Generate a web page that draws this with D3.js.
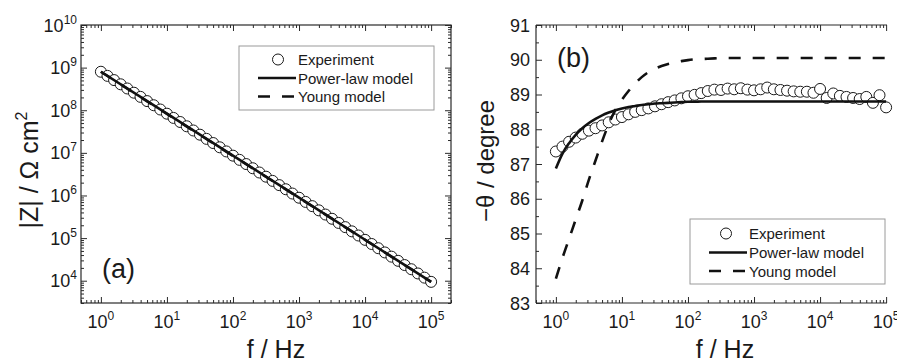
<!DOCTYPE html>
<html>
<head>
<meta charset="utf-8">
<script src="https://cdn.jsdelivr.net/npm/d3@7"></script>
<style>
  html, body { margin: 0; padding: 0; background: #fff; }
  svg { display: block; font-family: "Liberation Sans", Arial, sans-serif; }
</style>
</head>
<body>
<svg id="chart" width="897" height="363"></svg>
<script>
// Measurement frequencies (Hz), 10 points per decade
const freq = [
  1, 1.259, 1.585, 1.995, 2.512, 3.162, 3.981, 5.012, 6.310, 7.943,
  10, 12.59, 15.85, 19.95, 25.12, 31.62, 39.81, 50.12, 63.10, 79.43,
  100, 125.9, 158.5, 199.5, 251.2, 316.2, 398.1, 501.2, 631.0, 794.3,
  1000, 1259, 1585, 1995, 2512, 3162, 3981, 5012, 6310, 7943,
  10000, 12589, 15849, 19953, 25119, 31623, 39811, 50119, 63096, 79433, 100000
];

// Impedance modulus |Z| (Ohm cm^2), experiment
const zExp = [
  8.0e8, 6.4e8, 5.1e8, 4.06e8, 3.24e8, 2.58e8, 2.06e8, 1.64e8, 1.31e8, 1.04e8,
  8.3e7, 6.6e7, 5.3e7, 4.2e7, 3.35e7, 2.67e7, 2.13e7, 1.7e7, 1.35e7, 1.08e7,
  8.6e6, 6.85e6, 5.46e6, 4.35e6, 3.46e6, 2.76e6, 2.2e6, 1.75e6, 1.4e6, 1.11e6,
  8.86e5, 7.06e5, 5.62e5, 4.48e5, 3.57e5, 2.84e5, 2.27e5, 1.81e5, 1.44e5, 1.15e5,
  9.1e4, 7.27e4, 5.79e4, 4.61e4, 3.67e4, 2.93e4, 2.33e4, 1.86e4, 1.48e4, 1.18e4, 9.4e3
];

// Model |Z| at each decade
const freqDecades = [1, 10, 100, 1000, 10000, 100000];
const zPower = [8.0e8, 8.3e7, 8.6e6, 8.9e5, 9.15e4, 9.4e3];
const zYoung = [8.0e8, 8.2e7, 8.5e6, 8.85e5, 9.1e4, 9.4e3];

// Phase angle -theta (degree)
const phaseExp = [
  87.36, 87.50, 87.64, 87.76, 87.87, 87.96, 88.03, 88.11, 88.20, 88.28,
  88.35, 88.43, 88.50, 88.55, 88.60, 88.66, 88.72, 88.78, 88.83, 88.89,
  88.95, 88.99, 89.04, 89.10, 89.14, 89.13, 89.17, 89.15, 89.18, 89.14,
  89.12, 89.15, 89.20, 89.15, 89.13, 89.11, 89.09, 89.08, 89.08, 89.05,
  89.16, 88.90, 89.03, 88.96, 88.93, 88.90, 88.87, 88.93, 88.76, 88.98, 88.63
];
const phasePower = [
  86.87, 87.30, 87.60, 87.84, 88.03, 88.18, 88.30, 88.40, 88.48, 88.55,
  88.60, 88.64, 88.67, 88.70, 88.72, 88.74, 88.75, 88.76, 88.77, 88.78,
  88.79, 88.79, 88.80, 88.80, 88.80, 88.80, 88.80, 88.80, 88.80, 88.80,
  88.80, 88.80, 88.80, 88.80, 88.80, 88.80, 88.80, 88.80, 88.80, 88.80,
  88.80, 88.80, 88.80, 88.80, 88.80, 88.80, 88.80, 88.80, 88.80, 88.80, 88.80
];
const phaseYoung = [
  83.70, 84.30, 84.85, 85.40, 85.95, 86.55, 87.10, 87.65, 88.15, 88.55,
  88.85, 89.10, 89.32, 89.50, 89.64, 89.74, 89.82, 89.88, 89.92, 89.96,
  89.99, 90.01, 90.02, 90.03, 90.04, 90.05, 90.05, 90.05, 90.05, 90.05,
  90.05, 90.05, 90.05, 90.05, 90.05, 90.05, 90.05, 90.05, 90.05, 90.05,
  90.05, 90.05, 90.05, 90.05, 90.05, 90.05, 90.05, 90.05, 90.05, 90.05, 90.05
];

// Tick labels
const xTickValues = [1, 10, 100, 1000, 10000, 100000];
const xTickExps = ["0", "1", "2", "3", "4", "5"];
const zTickValues = [1e4, 1e5, 1e6, 1e7, 1e8, 1e9, 1e10];
const zTickExps = ["4", "5", "6", "7", "8", "9", "10"];
const phaseTicks = [83, 84, 85, 86, 87, 88, 89, 90, 91];
const phaseMinorTicks = [83.5, 84.5, 85.5, 86.5, 87.5, 88.5, 89.5, 90.5];

const legendItems = ["Experiment", "Power-law model", "Young model"];

const svg = d3.select("#chart");
const INK = "#1a1a1a";
const AXIS = "#2a2a2a";

function styleAxis(g) {
  g.select(".domain").remove();
  g.selectAll(".tick line").attr("stroke", AXIS).attr("stroke-width", 1);
  g.selectAll(".tick text").remove();
}

function powerLabel(g, x, y, anchor, base, exp) {
  const t = g.append("text")
    .attr("x", x).attr("y", y)
    .attr("text-anchor", anchor)
    .attr("fill", INK)
    .attr("font-size", 18);
  t.append("tspan").text(base);
  t.append("tspan").attr("font-size", 12).attr("dy", -8).text(exp);
}

function drawLegend(g, x0, y0, w, h, symX, lineX0, lineX1, textX, rowYs) {
  g.append("rect").attr("x", x0).attr("y", y0).attr("width", w).attr("height", h)
    .attr("fill", "#fff").attr("stroke", "#9a9a9a").attr("stroke-width", 1);
  g.append("circle").attr("cx", symX).attr("cy", rowYs[0]).attr("r", 5.5)
    .attr("fill", "#fff").attr("stroke", INK).attr("stroke-width", 1);
  g.append("line").attr("x1", lineX0).attr("x2", lineX1)
    .attr("y1", rowYs[1]).attr("y2", rowYs[1])
    .attr("stroke", "#111").attr("stroke-width", 2.6);
  g.append("line").attr("x1", lineX0).attr("x2", lineX1)
    .attr("y1", rowYs[2]).attr("y2", rowYs[2])
    .attr("stroke", "#111").attr("stroke-width", 2.6)
    .attr("stroke-dasharray", "12,12");
  legendItems.forEach((s, i) => {
    g.append("text").attr("x", textX).attr("y", rowYs[i] + 5.5)
      .attr("font-size", 15).attr("fill", INK).text(s);
  });
}

// ---------- Panel (a): |Z| vs f ----------
{
  const L = 81, R = 451, T = 25, B = 303;
  const x = d3.scaleLog().domain([0.5, 2e5]).range([L, R]);
  const y = d3.scaleLog().domain([3e3, 1e10]).range([B, T]);
  const g = svg.append("g");

  const xMinor = x.ticks().filter(v => !xTickValues.includes(v));
  const yMinor = y.ticks().filter(v => !zTickValues.includes(v));

  g.append("g").attr("transform", `translate(0,${B})`)
    .call(d3.axisBottom(x).tickValues(xTickValues).tickSize(-6).tickSizeOuter(0)).call(styleAxis);
  g.append("g").attr("transform", `translate(0,${B})`)
    .call(d3.axisBottom(x).tickValues(xMinor).tickSize(-3).tickSizeOuter(0)).call(styleAxis);
  g.append("g").attr("transform", `translate(0,${T})`)
    .call(d3.axisTop(x).tickValues(xTickValues).tickSize(-6).tickSizeOuter(0)).call(styleAxis);
  g.append("g").attr("transform", `translate(0,${T})`)
    .call(d3.axisTop(x).tickValues(xMinor).tickSize(-3).tickSizeOuter(0)).call(styleAxis);
  g.append("g").attr("transform", `translate(${L},0)`)
    .call(d3.axisLeft(y).tickValues(zTickValues).tickSize(-6).tickSizeOuter(0)).call(styleAxis);
  g.append("g").attr("transform", `translate(${L},0)`)
    .call(d3.axisLeft(y).tickValues(yMinor).tickSize(-3).tickSizeOuter(0)).call(styleAxis);
  g.append("g").attr("transform", `translate(${R},0)`)
    .call(d3.axisRight(y).tickValues(zTickValues).tickSize(-6).tickSizeOuter(0)).call(styleAxis);
  g.append("g").attr("transform", `translate(${R},0)`)
    .call(d3.axisRight(y).tickValues(yMinor).tickSize(-3).tickSizeOuter(0)).call(styleAxis);

  g.append("rect").attr("x", L).attr("y", T).attr("width", R - L).attr("height", B - T)
    .attr("fill", "none").attr("stroke", AXIS).attr("stroke-width", 1.2);

  xTickValues.forEach((v, i) => powerLabel(g, x(v), 328, "middle", "10", xTickExps[i]));
  zTickValues.forEach((v, i) => powerLabel(g, 77, y(v) + 6.5, "end", "10", zTickExps[i]));

  // experiment markers
  g.append("g").selectAll("circle").data(freq).join("circle")
    .attr("cx", d => x(d)).attr("cy", (d, i) => y(zExp[i])).attr("r", 5.5)
    .attr("fill", "#fff").attr("stroke", INK).attr("stroke-width", 1);

  const line = d3.line().x(d => x(d[0])).y(d => y(d[1]));
  g.append("path").datum(d3.zip(freqDecades, zYoung)).attr("d", line)
    .attr("fill", "none").attr("stroke", "#111").attr("stroke-width", 2.6)
    .attr("stroke-dasharray", "12,12");
  g.append("path").datum(d3.zip(freqDecades, zPower)).attr("d", line)
    .attr("fill", "none").attr("stroke", "#111").attr("stroke-width", 2.6);

  drawLegend(g, 239, 46, 195, 64, 278, 258, 296, 298, [59.5, 78, 96.5]);

  g.append("text").attr("x", 102).attr("y", 278).attr("font-size", 27)
    .attr("fill", INK).text("(a)");

  g.append("text").attr("x", 276).attr("y", 358).attr("text-anchor", "middle")
    .attr("font-size", 25).attr("fill", INK).text("f / Hz");

  const yt = g.append("text")
    .attr("transform", "translate(38,170) rotate(-90)")
    .attr("text-anchor", "middle").attr("font-size", 25).attr("fill", INK);
  yt.append("tspan").text("|Z| / \u03A9 cm");
  yt.append("tspan").attr("font-size", 16).attr("dy", -11).text("2");
}

// ---------- Panel (b): phase vs f ----------
{
  const L = 536, R = 906, T = 25, B = 303, EDGE = 887;
  const x = d3.scaleLog().domain([0.5, 2e5]).range([L, R]);
  const y = d3.scaleLinear().domain([83, 91]).range([B, T]);
  const g = svg.append("g");

  const xMinor = x.ticks().filter(v => !xTickValues.includes(v) && v < 1e5);

  g.append("g").attr("transform", `translate(0,${B})`)
    .call(d3.axisBottom(x).tickValues(xTickValues).tickSize(-6).tickSizeOuter(0)).call(styleAxis);
  g.append("g").attr("transform", `translate(0,${B})`)
    .call(d3.axisBottom(x).tickValues(xMinor).tickSize(-3).tickSizeOuter(0)).call(styleAxis);
  g.append("g").attr("transform", `translate(0,${T})`)
    .call(d3.axisTop(x).tickValues(xTickValues).tickSize(-6).tickSizeOuter(0)).call(styleAxis);
  g.append("g").attr("transform", `translate(0,${T})`)
    .call(d3.axisTop(x).tickValues(xMinor).tickSize(-3).tickSizeOuter(0)).call(styleAxis);
  g.append("g").attr("transform", `translate(${L},0)`)
    .call(d3.axisLeft(y).tickValues(phaseTicks).tickSize(-6).tickSizeOuter(0)).call(styleAxis);
  g.append("g").attr("transform", `translate(${L},0)`)
    .call(d3.axisLeft(y).tickValues(phaseMinorTicks).tickSize(-3).tickSizeOuter(0)).call(styleAxis);

  g.append("line").attr("x1", L).attr("x2", L).attr("y1", T).attr("y2", B)
    .attr("stroke", AXIS).attr("stroke-width", 1.2);
  g.append("line").attr("x1", L).attr("x2", EDGE).attr("y1", T).attr("y2", T)
    .attr("stroke", AXIS).attr("stroke-width", 1.2);
  g.append("line").attr("x1", L).attr("x2", EDGE).attr("y1", B).attr("y2", B)
    .attr("stroke", AXIS).attr("stroke-width", 1.2);

  xTickValues.forEach((v, i) => powerLabel(g, x(v), 328, "middle", "10", xTickExps[i]));
  phaseTicks.forEach(v => {
    g.append("text").attr("x", 530).attr("y", y(v) + 6.5).attr("text-anchor", "end")
      .attr("font-size", 18).attr("fill", INK).text(v);
  });

  g.append("g").selectAll("circle").data(freq).join("circle")
    .attr("cx", d => x(d)).attr("cy", (d, i) => y(phaseExp[i])).attr("r", 5.5)
    .attr("fill", "#fff").attr("stroke", INK).attr("stroke-width", 1);

  const line = d3.line().x(d => x(d[0])).y(d => y(d[1])).curve(d3.curveMonotoneX);
  g.append("path").datum(d3.zip(freq, phaseYoung)).attr("d", line)
    .attr("fill", "none").attr("stroke", "#111").attr("stroke-width", 2.6)
    .attr("stroke-dasharray", "12,12");
  g.append("path").datum(d3.zip(freq, phasePower)).attr("d", line)
    .attr("fill", "none").attr("stroke", "#111").attr("stroke-width", 2.6);

  drawLegend(g, 690, 219, 195, 65, 726, 709, 747, 749, [233.5, 252.5, 271]);

  g.append("text").attr("x", 557).attr("y", 67).attr("font-size", 27)
    .attr("fill", INK).text("(b)");

  g.append("text").attr("x", 725).attr("y", 358).attr("text-anchor", "middle")
    .attr("font-size", 25).attr("fill", INK).text("f / Hz");

  g.append("text")
    .attr("transform", "translate(494,161) rotate(-90)")
    .attr("text-anchor", "middle").attr("font-size", 24).attr("fill", INK)
    .text("\u2212\u03B8 / degree");
}
</script>
</body>
</html>
